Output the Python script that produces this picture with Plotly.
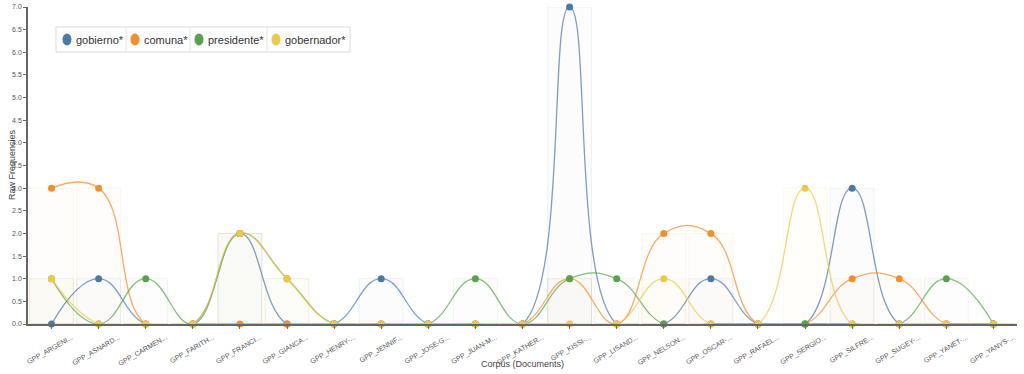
import plotly.graph_objects as go

docs = ["GPP_ARGENI...", "GPP_ASNARD...", "GPP_CARMEN...", "GPP_FARITH...", "GPP_FRANCI...",
        "GPP_GIANCA...", "GPP_HENRY-...", "GPP_JENNIF...", "GPP_JOSE-G...", "GPP_JUAN-M...",
        "GPP_KATHER...", "GPP_KISSI-...", "GPP_LISAND...", "GPP_NELSON...", "GPP_OSCAR-...",
        "GPP_RAFAEL...", "GPP_SERGIO...", "GPP_SILFRE...", "GPP_SUGEY-...", "GPP_YANET-...",
        "GPP_YANYS-..."]

gobierno   = [0, 1, 0, 0, 2, 0, 0, 1, 0, 0, 0, 7, 0, 0, 1, 0, 0, 3, 0, 0, 0]
comuna     = [3, 3, 0, 0, 0, 0, 0, 0, 0, 0, 0, 1, 0, 2, 2, 0, 0, 1, 1, 0, 0]
presidente = [1, 0, 1, 0, 2, 1, 0, 0, 0, 1, 0, 1, 1, 0, 0, 0, 0, 0, 0, 1, 0]
gobernador = [1, 0, 0, 0, 2, 1, 0, 0, 0, 0, 0, 0, 0, 1, 0, 0, 3, 0, 0, 0, 0]

series_names = ["gobierno*", "comuna*", "presidente*", "gobernador*"]
series_vals = [gobierno, comuna, presidente, gobernador]
series_rgb = ["78,121,167", "242,142,43", "89,161,79", "237,201,72"]

W, H = 1024, 374
L, R, T, B = 28, 7, 7, 50
PW, PH = W - L - R, H - T - B

def px_x(p):  # pixel -> paper x
    return (p - L) / PW

def px_y(p):  # pixel -> paper y
    return (H - B - p) / PH

fig = go.Figure()

# faint background bars
for vals, rgb in zip(series_vals, series_rgb):
    fig.add_trace(go.Bar(
        x=docs, y=vals, width=0.93, showlegend=False, hoverinfo="skip",
        marker=dict(color=f"rgba({rgb},0.018)", line=dict(color=f"rgba({rgb},0.09)", width=1)),
    ))

# smoothed lines with points
for name, vals, rgb in zip(series_names, series_vals, series_rgb):
    fig.add_trace(go.Scatter(
        x=docs, y=vals, mode="lines+markers", name=name, showlegend=False,
        line=dict(color=f"rgba({rgb},0.72)", width=1.3, shape="spline", smoothing=1.3),
        marker=dict(color=f"rgb({rgb})", size=7),
        cliponaxis=False,
    ))

# manual legend (decoration)
box_l, box_r, box_t, box_b = 56, 350, 27, 52
shapes = [dict(type="rect", xref="paper", yref="paper",
               x0=px_x(box_l), x1=px_x(box_r), y0=px_y(box_b), y1=px_y(box_t),
               line=dict(color="#d9d9d9", width=1), fillcolor="white", layer="above")]
circle_x = [67, 135, 199, 276]
text_x = [74, 142, 206, 283]
seps = [126, 190, 267]
for s in seps:
    shapes.append(dict(type="line", xref="paper", yref="paper",
                       x0=px_x(s), x1=px_x(s), y0=px_y(box_b - 1), y1=px_y(box_t + 1),
                       line=dict(color="#e3e3e3", width=1), layer="above"))
cy = (box_t + box_b) / 2
annotations = []
for name, rgb, cx, tx in zip(series_names, series_rgb, circle_x, text_x):
    shapes.append(dict(type="circle", xref="paper", yref="paper",
                       xsizemode="pixel", ysizemode="pixel",
                       xanchor=px_x(cx), yanchor=px_y(cy),
                       x0=-4.5, x1=4.5, y0=-6, y1=6,
                       fillcolor=f"rgb({rgb})", line=dict(width=0), layer="above"))
    annotations.append(dict(text=name, xref="paper", yref="paper",
                            x=px_x(tx), y=px_y(cy), xanchor="left", yanchor="middle",
                            showarrow=False,
                            font=dict(family="Liberation Sans, Arial", size=11, color="#333")))

annotations.append(dict(text="Corpus (Documents)", xref="paper", yref="paper",
                        x=0.5, y=px_y(364), xanchor="center", yanchor="middle",
                        showarrow=False, font=dict(size=9, color="#444")))
annotations.append(dict(text="Raw Frequencies", xref="paper", yref="paper",
                        x=px_x(12), y=px_y(165), xanchor="center", yanchor="middle",
                        textangle=-90, showarrow=False, font=dict(size=9, color="#444")))

fig.update_layout(
    width=W, height=H,
    margin=dict(l=L, r=R, t=T, b=B),
    paper_bgcolor="white", plot_bgcolor="white",
    barmode="overlay",
    showlegend=False,
    font=dict(family="Liberation Sans, Arial, sans-serif", color="#444"),
    shapes=shapes,
    annotations=annotations,
    xaxis=dict(
        type="category", range=[-0.5, 20.5], showgrid=False, automargin=False,
        showline=True, linecolor="#666", linewidth=1.5,
        ticks="outside", ticklen=3, tickcolor="#666",
        tickangle=-30, tickfont=dict(size=7, color="#555"),
        ticklabelshift=20, ticklabelstandoff=2,
    ),
    yaxis=dict(
        range=[0, 7], dtick=0.5, tickformat=".1f", showgrid=False, zeroline=False,
        automargin=False,
        showline=True, linecolor="#666", linewidth=1.5,
        ticks="outside", ticklen=3, tickcolor="#666",
        tickfont=dict(size=7, color="#555"),
    ),
)

fig.write_html("out.html",
               config={"displayModeBar": False},
               post_script="document.body.style.margin='0';document.body.style.overflow='hidden';")
